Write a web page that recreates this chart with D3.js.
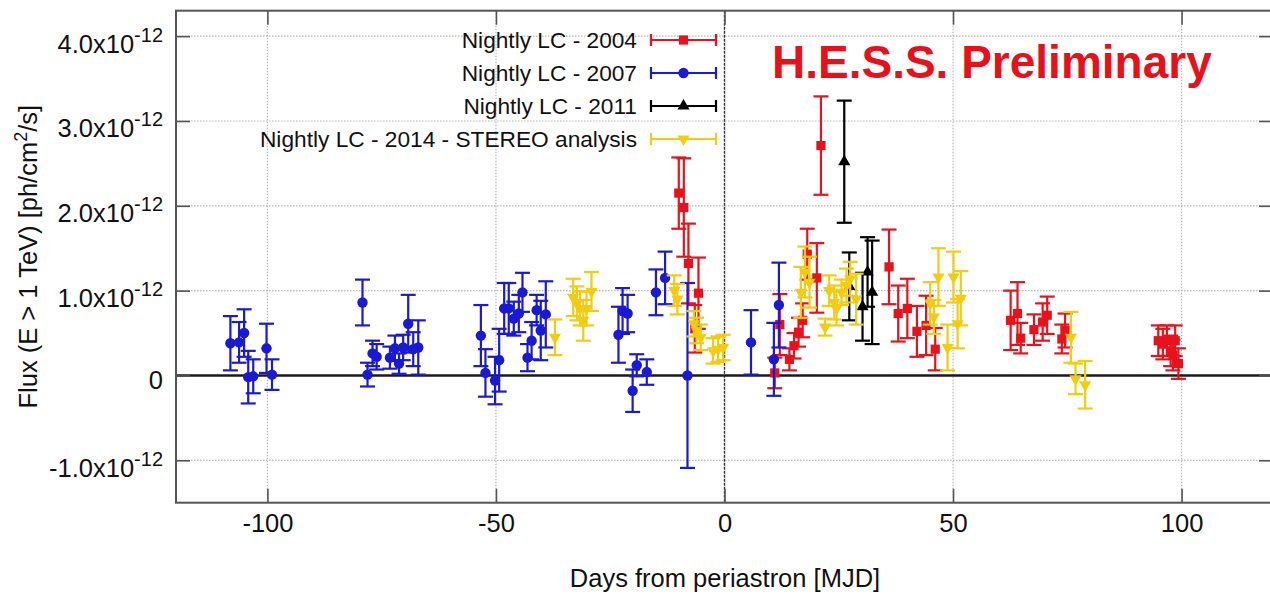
<!DOCTYPE html>
<html>
<head>
<meta charset="utf-8">
<script src="https://cdn.jsdelivr.net/npm/d3@7"></script>
<style>
  html, body { margin: 0; padding: 0; background: #fff; }
  svg { display: block; }
  text { font-family: "Liberation Sans", Arial, Helvetica, sans-serif; }
</style>
</head>
<body>
<svg id="chart" width="1270" height="608"></svg>
<script>
// ---- data (flux in units of 1e-12 ph/cm^2/s) ----
const days04 = [-10.0, -8.9, -7.9, -6.5, -5.7, 11.0, 12.1, 14.2, 15.2, 16.2, 17.1, 18.1, 20.2, 21.1, 36.0, 38.0, 40.0, 42.1, 44.1, 46.1, 62.6, 64.1, 64.8, 67.7, 69.6, 70.6, 73.8, 74.5, 94.9, 95.9, 96.8, 97.6, 98.1, 98.6, 99.3];
const flux04 = [2.15, 1.98, 1.32, 0.55, 0.97, 0.03, 0.60, 0.19, 0.35, 0.51, 0.65, 1.43, 1.15, 2.71, 1.28, 0.73, 0.79, 0.52, 0.59, 0.31, 0.65, 0.73, 0.44, 0.54, 0.63, 0.71, 0.43, 0.53, 0.41, 0.37, 0.41, 0.29, 0.24, 0.41, 0.14];
const err04  = [0.42, 0.58, 0.47, 0.28, 0.42, 0.18, 0.36, 0.13, 0.15, 0.17, 0.20, 0.30, 0.41, 0.58, 0.44, 0.33, 0.35, 0.30, 0.35, 0.25, 0.35, 0.37, 0.18, 0.18, 0.22, 0.22, 0.17, 0.20, 0.18, 0.18, 0.18, 0.18, 0.18, 0.18, 0.18];

const days07 = [-108.1, -106.2, -105.1, -104.2, -103.1, -100.2, -99.0, -79.2, -78.1, -77.0, -76.1, -73.2, -72.1, -71.2, -70.3, -69.2, -68.1, -67.0, -53.3, -52.3, -50.2, -49.3, -48.2, -47.2, -46.1, -45.0, -44.2, -43.1, -42.2, -41.1, -40.2, -39.1, -23.2, -22.3, -21.2, -20.1, -19.2, -17.0, -15.0, -13.0, -8.1, 5.8, 10.8, 11.9];
const flux07 = [0.38, 0.39, 0.50, -0.02, -0.01, 0.32, 0.01, 0.86, 0.01, 0.26, 0.22, 0.21, 0.32, 0.14, 0.33, 0.61, 0.31, 0.33, 0.47, 0.03, -0.06, 0.18, 0.79, 0.79, 0.67, 0.73, 0.98, 0.21, 0.41, 0.77, 0.53, 0.72, 0.48, 0.76, 0.73, -0.18, 0.12, 0.04, 0.98, 1.15, 0.00, 0.39, 0.19, 0.83];
const err07  = [0.32, 0.24, 0.28, 0.31, 0.20, 0.29, 0.18, 0.27, 0.14, 0.15, 0.15, 0.13, 0.15, 0.12, 0.15, 0.34, 0.20, 0.32, 0.36, 0.28, 0.28, 0.37, 0.30, 0.30, 0.20, 0.22, 0.23, 0.16, 0.22, 0.18, 0.35, 0.39, 0.33, 0.27, 0.22, 0.25, 0.13, 0.15, 0.27, 0.31, 1.09, 0.38, 0.43, 0.50];

const days11 = [26.2, 27.3, 30.2, 31.3, 32.3];
const flux11 = [2.52, 1.05, 0.81, 1.22, 0.98];
const err11  = [0.72, 0.40, 0.40, 0.41, 0.61];

const days14 = [-37.1, -33.1, -32.3, -31.6, -30.9, -30.2, -29.1, -11.0, -10.3, -6.7, -6.1, -5.2, -2.5, -1.4, -0.3, 16.7, 17.6, 18.6, 22.0, 22.9, 24.0, 24.5, 25.6, 26.7, 27.5, 28.8, 45.0, 45.8, 46.8, 48.8, 50.1, 51.0, 51.7, 75.8, 76.8, 78.9];
const flux14 = [0.45, 0.92, 0.85, 0.79, 0.65, 0.79, 0.99, 1.00, 0.90, 0.61, 0.53, 0.45, 0.29, 0.31, 0.33, 0.98, 1.22, 1.10, 0.57, 1.00, 0.86, 0.79, 0.98, 1.06, 1.14, 0.90, 0.85, 0.69, 1.16, 0.33, 1.16, 0.61, 0.91, 0.45, -0.04, -0.11];
const err14  = [0.21, 0.22, 0.20, 0.20, 0.24, 0.20, 0.23, 0.18, 0.18, 0.15, 0.15, 0.15, 0.15, 0.15, 0.15, 0.30, 0.30, 0.30, 0.10, 0.18, 0.20, 0.20, 0.15, 0.20, 0.20, 0.30, 0.25, 0.20, 0.34, 0.27, 0.30, 0.29, 0.32, 0.30, 0.18, 0.28];

const seriesNames = ["Nightly LC - 2004", "Nightly LC - 2007", "Nightly LC - 2011", "Nightly LC - 2014 - STEREO analysis"];
const xTicks = [-100, -50, 0, 50, 100];
const yTicks = [-1, 0, 1, 2, 3, 4];
const xTitle = "Days from periastron [MJD]";
const watermark = "H.E.S.S. Preliminary";

// ---- layout ----
const L = 176, R = 1273, T = 10.7, B = 502.7;
const svg = d3.select("#chart");
const x = d3.scaleLinear().domain([-120, 120]).range([L, R]);
const y = d3.scaleLinear().domain([-1.5, 4.3]).range([B, T]);

const colors = ["#e8121c", "#1a1ad4", "#000000", "#f2cc10"];
const shapes = [
  {type: d3.symbolSquare, size: 85, rot: 0},
  {type: d3.symbolCircle, size: 85, rot: 0},
  {type: d3.symbolTriangle, size: 64, rot: 0},
  {type: d3.symbolTriangle, size: 64, rot: 180}
];

// grid
const grid = svg.append("g");
grid.selectAll("line.gx").data(xTicks).join("line")
  .attr("x1", d => x(d)).attr("x2", d => x(d)).attr("y1", T).attr("y2", B)
  .attr("stroke", d => d === 0 ? "#333" : "#b8b8b8")
  .attr("stroke-width", d => d === 0 ? 1.4 : 1.2)
  .attr("stroke-dasharray", d => d === 0 ? "3,1" : "1.5,1.5");
grid.selectAll("line.gy").data(yTicks.filter(d => d !== 0)).join("line")
  .attr("x1", L).attr("x2", R).attr("y1", d => y(d)).attr("y2", d => y(d))
  .attr("stroke", "#b8b8b8").attr("stroke-width", 1.2).attr("stroke-dasharray", "1.5,1.5");
// zero line
svg.append("line").attr("x1", L).attr("x2", R).attr("y1", y(0)).attr("y2", y(0))
  .attr("stroke", "#1a1a1a").attr("stroke-width", 2.6);

// axes
const axColor = "#555";
const fmtX = d => String(d);  // plain hyphen-minus
const gx = svg.append("g").attr("transform", `translate(0,${B})`)
  .call(d3.axisBottom(x).tickValues(xTicks).tickSize(-14).tickSizeOuter(0).tickFormat(fmtX));
const gxt = svg.append("g").attr("transform", `translate(0,${T})`)
  .call(d3.axisTop(x).tickValues(xTicks).tickSize(-14).tickSizeOuter(0).tickFormat(""));
const gy = svg.append("g").attr("transform", `translate(${L},0)`)
  .call(d3.axisLeft(y).tickValues(yTicks).tickSize(-14).tickSizeOuter(0).tickPadding(13).tickFormat(d => d));
const gyr = svg.append("g").attr("transform", `translate(${R},0)`)
  .call(d3.axisRight(y).tickValues(yTicks).tickSize(-14).tickSizeOuter(0).tickFormat(""));
[gx, gxt, gy, gyr].forEach(g => {
  g.select(".domain").remove();
  g.selectAll(".tick line").attr("stroke", axColor).attr("stroke-width", 1.6);
});
gx.selectAll(".tick text").attr("dy", null).attr("y", 29)
  .attr("font-size", 25.5).attr("fill", "#111")
  .attr("font-family", "Liberation Sans, Arial, sans-serif");
gy.selectAll(".tick text").each(function(d) {
  const t = d3.select(this);
  t.text(null).attr("dy", null).attr("fill", "#111").attr("font-size", 25.5)
    .attr("font-family", "Liberation Sans, Arial, sans-serif");
  if (d === 0) {
    t.attr("y", 13).text("0");
  } else {
    t.attr("y", 16);
    t.append("tspan").text(d.toFixed(1) + "x10");
    t.append("tspan").attr("dy", -11).attr("font-size", 20).text("-12");
  }
});

// border
svg.append("rect").attr("x", L).attr("y", T).attr("width", R - L).attr("height", B - T)
  .attr("fill", "none").attr("stroke", axColor).attr("stroke-width", 2);

// axis titles
svg.append("text").attr("x", (L + R) / 2 + 0.5).attr("y", 587)
  .attr("text-anchor", "middle").attr("font-size", 25.5).attr("fill", "#111").text(xTitle);
const yl = svg.append("text").attr("transform", `translate(37,${(T + B) / 2}) rotate(-90)`)
  .attr("text-anchor", "middle").attr("font-size", 25.5).attr("fill", "#111");
yl.append("tspan").text("Flux (E > 1 TeV) [ph/cm");
yl.append("tspan").attr("dy", -10).attr("font-size", 18).text("2");
yl.append("tspan").attr("dy", 10).text("/s]");

// data series
const allSeries = [
  {d: days04, f: flux04, e: err04},
  {d: days07, f: flux07, e: err07},
  {d: days11, f: flux11, e: err11},
  {d: days14, f: flux14, e: err14}
];
const capW = 7.5;
allSeries.forEach((s, i) => {
  const pts = s.d.map((dd, k) => ({day: dd, v: s.f[k], e: s.e[k]}));
  const g = svg.append("g").attr("stroke", colors[i]).attr("fill", colors[i]);
  const pg = g.selectAll("g").data(pts).join("g");
  pg.append("line").attr("x1", p => x(p.day)).attr("x2", p => x(p.day))
    .attr("y1", p => y(p.v - p.e)).attr("y2", p => y(p.v + p.e)).attr("stroke-width", 2.2);
  pg.append("line").attr("x1", p => x(p.day) - capW).attr("x2", p => x(p.day) + capW)
    .attr("y1", p => y(p.v + p.e)).attr("y2", p => y(p.v + p.e)).attr("stroke-width", 2.2);
  pg.append("line").attr("x1", p => x(p.day) - capW).attr("x2", p => x(p.day) + capW)
    .attr("y1", p => y(p.v - p.e)).attr("y2", p => y(p.v - p.e)).attr("stroke-width", 2.2);
  pg.append("path").attr("d", d3.symbol().type(shapes[i].type).size(shapes[i].size)())
    .attr("stroke", "none")
    .attr("transform", p => `translate(${x(p.day)},${y(p.v)}) rotate(${shapes[i].rot})`);
});

// legend
const legY = [40, 73, 106, 139];
const lg = svg.append("g");
seriesNames.forEach((name, i) => {
  const yy = legY[i];
  lg.append("text").attr("x", 637).attr("y", yy + 8).attr("text-anchor", "end")
    .attr("font-size", 22.7).attr("fill", "#111").text(name);
  const c = colors[i];
  lg.append("line").attr("x1", 651).attr("x2", 716).attr("y1", yy).attr("y2", yy).attr("stroke", c).attr("stroke-width", 2.2);
  lg.append("line").attr("x1", 651).attr("x2", 651).attr("y1", yy - 6).attr("y2", yy + 6).attr("stroke", c).attr("stroke-width", 2.2);
  lg.append("line").attr("x1", 716).attr("x2", 716).attr("y1", yy - 6).attr("y2", yy + 6).attr("stroke", c).attr("stroke-width", 2.2);
  lg.append("path").attr("d", d3.symbol().type(shapes[i].type).size(shapes[i].size)())
    .attr("fill", c).attr("transform", `translate(683.5,${yy}) rotate(${shapes[i].rot})`);
});

// watermark
svg.append("text").attr("x", 772).attr("y", 77.5).attr("font-size", 46).attr("font-weight", "bold")
  .attr("fill", "#e8101a").text(watermark);
</script>
</body>
</html>
